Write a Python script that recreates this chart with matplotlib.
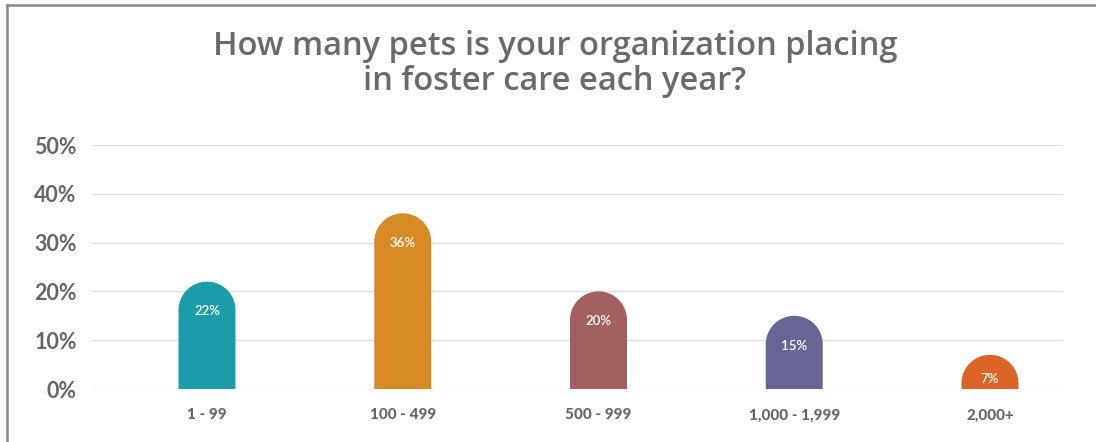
import matplotlib
matplotlib.use("Agg")
import matplotlib.pyplot as plt
from matplotlib.path import Path
from matplotlib.patches import PathPatch
from matplotlib.lines import Line2D
import numpy as np

categories = ["1 - 99", "100 - 499", "500 - 999", "1,000 - 1,999", "2,000+"]
values = [0.22, 0.36, 0.20, 0.15, 0.07]
colors = ["#1A9DA8", "#D68B27", "#A45F5F", "#666594", "#DB6527"]
yticks = [0, 0.1, 0.2, 0.3, 0.4, 0.5]
title = "How many pets is your organization placing\nin foster care each year?"

W, H = 1096, 442
fig = plt.figure(figsize=(W / 100, H / 100), dpi=100)
ax = fig.add_axes([92 / W, 53 / H, 971 / W, 244 / H])

xmin, xmax = -0.5875, 4.373
ymin, ymax = 0.0, 0.5
ax.set_xlim(xmin, xmax)
ax.set_ylim(ymin, ymax)

bar_w = 0.291
# pixel scale factors to keep the caps round
px_per_x = 971 / (xmax - xmin)
px_per_y = 244 / (ymax - ymin)
rx = bar_w / 2
ry = rx * px_per_x / px_per_y


def capsule_path(xc, top):
    # straight sides, half-ellipse in data units (a semicircle on screen)
    t = np.linspace(np.pi, 0, 60)
    cap_y0 = top - ry
    xs = [xc - rx] + list(xc + rx * np.cos(t)) + [xc + rx, xc - rx]
    ys = [0] + list(cap_y0 + ry * np.sin(t)) + [0, 0]
    if cap_y0 < 0:
        ys = [max(y, 0) for y in ys]
    verts = list(zip(xs, ys))
    codes = [Path.MOVETO] + [Path.LINETO] * (len(verts) - 2) + [Path.CLOSEPOLY]
    return Path(verts, codes)


for i, (v, c) in enumerate(zip(values, colors)):
    ax.add_patch(PathPatch(capsule_path(i, v), facecolor=c, edgecolor="none", zorder=3))
    ty = max(v - 0.061, 0.02)
    ax.text(i, ty, f"{round(v * 100)}%", ha="center", va="center", color="white",
            fontsize=9.5, family="Lato", fontweight="semibold", zorder=4)

ax.set_yticks(yticks)
ax.set_yticklabels([f"{int(round(t * 100))}%" for t in yticks], family="Lato",
                   fontsize=15.5, color="#666666", fontweight="bold")
ax.set_xticks(range(len(categories)))
ax.set_xticklabels(categories, family="Lato", fontsize=11, color="#666666",
                   fontweight="black")
ax.tick_params(axis="both", length=0)
ax.tick_params(axis="y", pad=11)
ax.tick_params(axis="x", pad=14)
for s in ax.spines.values():
    s.set_visible(False)
ax.yaxis.grid(True, color="#e0e0e0", linewidth=1)
ax.set_axisbelow(True)

fig.text(555 / W, 1 - 64 / H, title, ha="center", va="center", fontsize=23.5,
         family="Open Sans", fontweight="semibold", color="#6a6a6a", linespacing=1.1)

# frame on the top and left edges
fig.add_artist(Line2D([7 / W, 1], [1 - 4.5 / H, 1 - 4.5 / H], color="#888888", lw=1.8,
                      transform=fig.transFigure))
fig.add_artist(Line2D([7 / W, 7 / W], [0, 1 - 4.5 / H], color="#888888", lw=1.8,
                      transform=fig.transFigure))

fig.savefig("out.png", dpi=100)
